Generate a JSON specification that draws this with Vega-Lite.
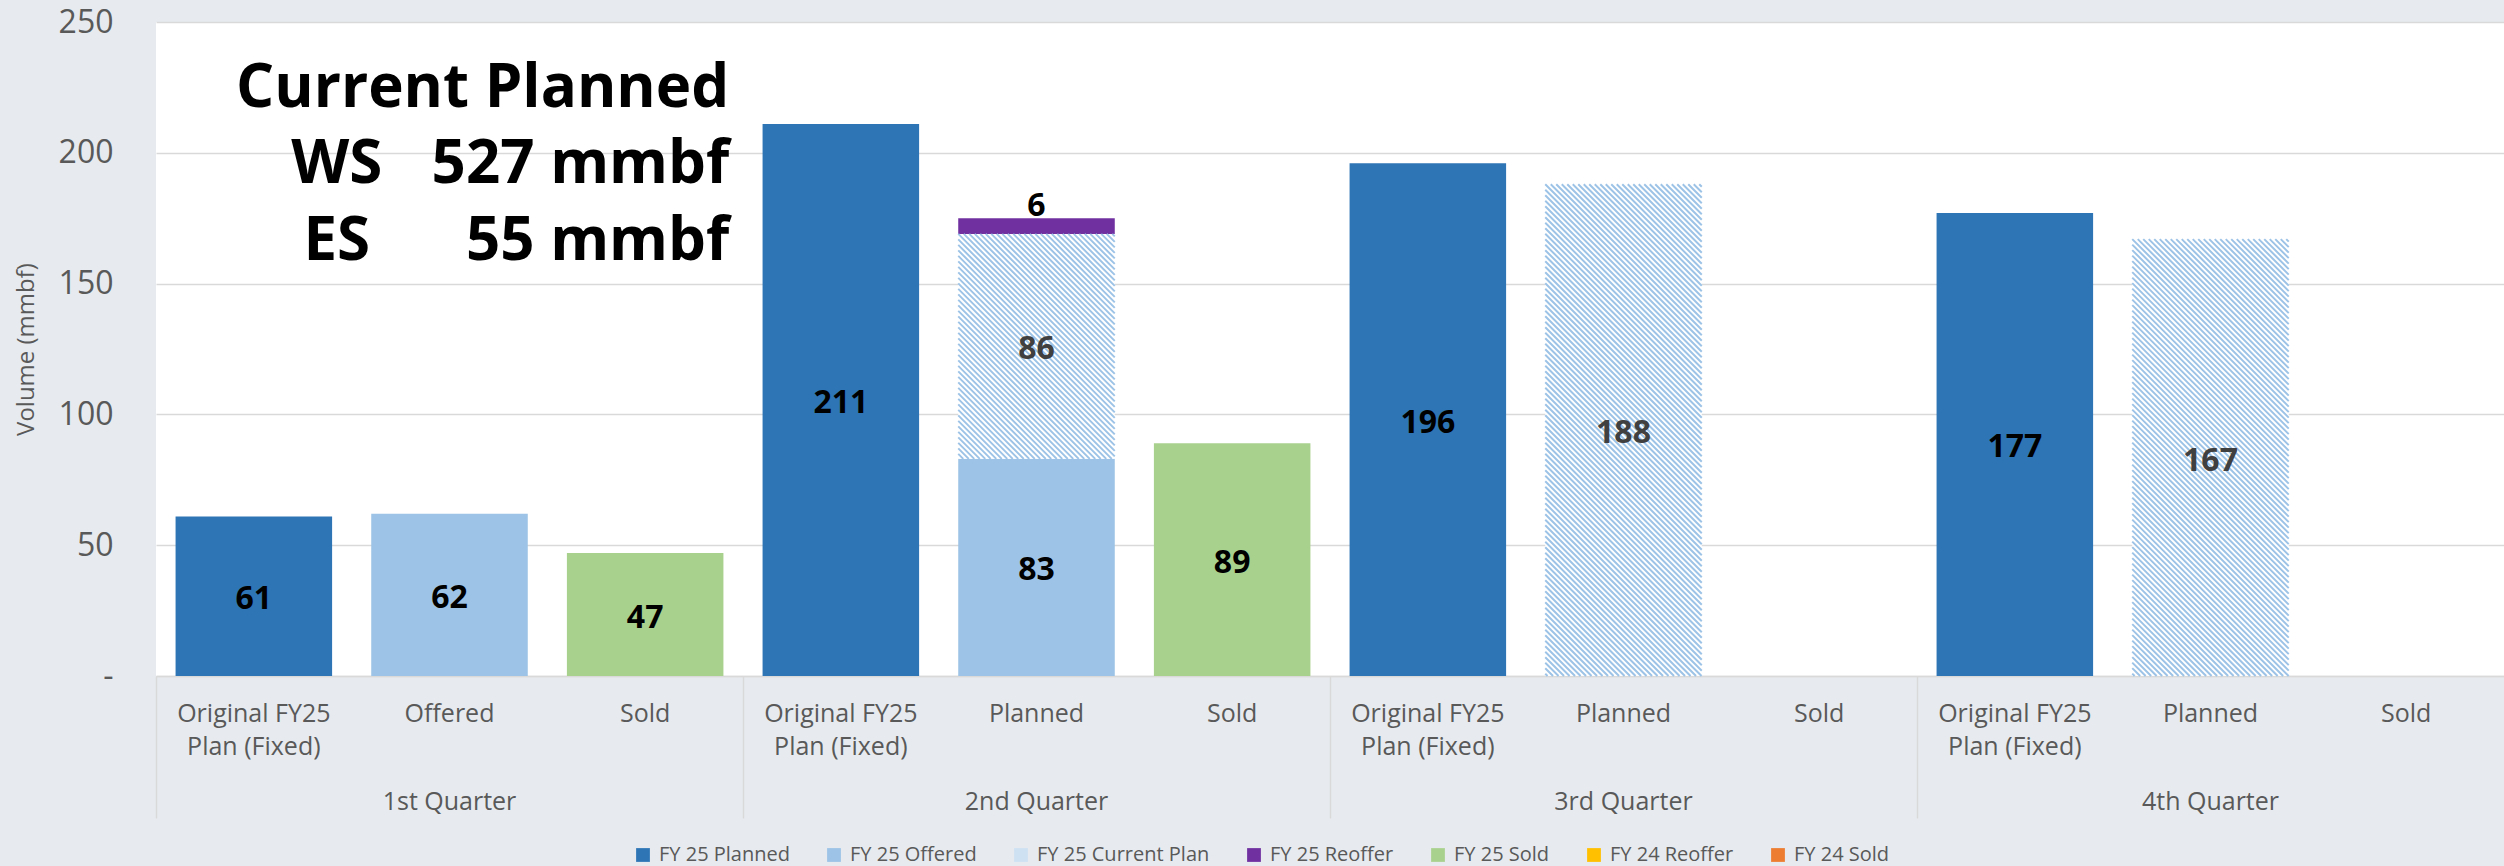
{
 "$schema": "https://vega.github.io/schema/vega-lite/v6.json",
 "width": 2348,
 "height": 654,
 "autosize": {"type": "none"},
 "padding": {"left": 156, "top": 22, "right": 0, "bottom": 190},
 "background": "#E7EBEF",
 "config": {"view": {"fill": "#FFFFFF", "stroke": null}, "font": "Open Sans"},
 "datasets": {
  "bars": [
   {"quarter":"1st Quarter","key":"1st Quarter|Original FY25 Plan (Fixed)","series":"FY 25 Planned","value":61,"order":1},
   {"quarter":"1st Quarter","key":"1st Quarter|Offered","series":"FY 25 Offered","value":62,"order":2},
   {"quarter":"1st Quarter","key":"1st Quarter|Sold","series":"FY 25 Sold","value":47,"order":5},
   {"quarter":"2nd Quarter","key":"2nd Quarter|Original FY25 Plan (Fixed)","series":"FY 25 Planned","value":211,"order":1},
   {"quarter":"2nd Quarter","key":"2nd Quarter|Planned","series":"FY 25 Offered","value":83,"order":2},
   {"quarter":"2nd Quarter","key":"2nd Quarter|Planned","series":"FY 25 Current Plan","value":86,"order":3},
   {"quarter":"2nd Quarter","key":"2nd Quarter|Planned","series":"FY 25 Reoffer","value":6,"order":4},
   {"quarter":"2nd Quarter","key":"2nd Quarter|Sold","series":"FY 25 Sold","value":89,"order":5},
   {"quarter":"3rd Quarter","key":"3rd Quarter|Original FY25 Plan (Fixed)","series":"FY 25 Planned","value":196,"order":1},
   {"quarter":"3rd Quarter","key":"3rd Quarter|Planned","series":"FY 25 Current Plan","value":188,"order":3},
   {"quarter":"4th Quarter","key":"4th Quarter|Original FY25 Plan (Fixed)","series":"FY 25 Planned","value":177,"order":1},
   {"quarter":"4th Quarter","key":"4th Quarter|Planned","series":"FY 25 Current Plan","value":167,"order":3}
  ],
  "notesRight": [
   {"note":"Current Planned\u00a0","key":"1st Quarter|Sold","y":217.5},
   {"note":"527 mmbf","key":"1st Quarter|Sold","y":188.5},
   {"note":"55 mmbf","key":"1st Quarter|Sold","y":159}
  ],
  "notesCenter": [
   {"note":"WS","key":"1st Quarter|Original FY25 Plan (Fixed)","y":188.5},
   {"note":"ES","key":"1st Quarter|Original FY25 Plan (Fixed)","y":159}
  ]
 },
 "layer": [
  {
   "data": {"name": "bars"},
   "transform": [
    {"stack": "value", "groupby": ["key"], "sort": [{"field": "order", "order": "ascending"}], "as": ["v0", "v1"]},
    {"calculate": "(datum.v0 + datum.v1) / 2", "as": "mid"}
   ],
   "encoding": {
    "x": {
     "field": "key", "type": "nominal", "title": null,
     "scale": {"type": "band", "domain": ["1st Quarter|Original FY25 Plan (Fixed)","1st Quarter|Offered","1st Quarter|Sold","2nd Quarter|Original FY25 Plan (Fixed)","2nd Quarter|Planned","2nd Quarter|Sold","3rd Quarter|Original FY25 Plan (Fixed)","3rd Quarter|Planned","3rd Quarter|Sold","4th Quarter|Original FY25 Plan (Fixed)","4th Quarter|Planned","4th Quarter|Sold"], "paddingInner": 0.2, "paddingOuter": 0.1},
     "axis": {"orient": "bottom", "labelExpr": "indexof(datum.value, 'Original') >= 0 ? ['Original FY25', 'Plan (Fixed)'] : split(datum.value, '|')[1]", "labelAngle": 0, "labelFontSize": 25, "labelColor": "#595959", "labelPadding": 25, "labelLineHeight": 33, "labelOverlap": false, "labelFlush": false, "labelLimit": 0, "ticks": false, "domain": true, "domainColor": "#D9D9D9", "domainWidth": 1.5, "grid": false}
    }
   },
   "layer": [
    {
     "mark": {"type": "bar"},
     "encoding": {
      "y": {"field": "v0", "type": "quantitative", "scale": {"domain": [0, 250], "nice": false}, "title": "Volume (mmbf)",
       "axis": {"values": [0, 50, 100, 150, 200, 250], "labelExpr": "datum.value == 0 ? '-\u00a0\u00a0' : datum.label", "labelFontSize": 32, "labelColor": "#595959", "labelPadding": 43, "ticks": false, "domain": false, "grid": true, "gridColor": "#D9D9D9", "gridWidth": 1.5, "titleFontSize": 24, "titleFontWeight": "normal", "titleColor": "#595959", "titlePadding": 20}},
      "y2": {"field": "v1"},
      "color": {
       "condition": {"test": "datum.series === 'FY 25 Current Plan'", "value": "#FFFFFF"},
       "field": "series", "type": "nominal",
       "scale": {"domain": ["FY 25 Planned","FY 25 Offered","FY 25 Current Plan","FY 25 Reoffer","FY 25 Sold","FY 24 Reoffer","FY 24 Sold"], "range": ["#2E75B6","#9DC3E6","#CEE1F2","#7030A0","#A9D18E","#FFC000","#ED7D31"]},
       "legend": {"orient": "none", "legendX": 477, "legendY": 823, "direction": "horizontal", "title": null, "labelFontSize": 20, "labelColor": "#595959", "labelLimit": 0, "symbolType": "square", "symbolSize": 190, "symbolStrokeWidth": 0, "labelOffset": 6, "columnPadding": 34}
      }
     }
    },
    {
     "transform": [{"filter": "datum.series === 'FY 25 Current Plan' && datum.quarter === '3rd Quarter'"}],
     "mark": {"type": "point", "size": 4, "filled": false, "color": "#9DC3E6", "stroke": "#9DC3E6", "strokeWidth": 2, "opacity": 1, "strokeCap": "butt",
      "shape": "M-72.75,0l151,151M-67.25,0l145.5,145.5M-61.75,0l140,140M-56.25,0l134.5,134.5M-50.75,0l129,129M-45.25,0l123.5,123.5M-39.75,0l118,118M-34.25,0l112.5,112.5M-28.75,0l107,107M-23.25,0l101.5,101.5M-17.75,0l96,96M-12.25,0l90.5,90.5M-6.75,0l85,85M-1.25,0l79.5,79.5M4.25,0l74,74M9.75,0l68.5,68.5M15.25,0l63,63M20.75,0l57.5,57.5M26.25,0l52,52M31.75,0l46.5,46.5M37.25,0l41,41M42.75,0l35.5,35.5M48.25,0l30,30M53.75,0l24.5,24.5M59.25,0l19,19M64.75,0l13.5,13.5M70.25,0l8,8M75.75,0l2.5,2.5M-78.25,0l156.5,156.5M-78.25,5.5l156.5,156.5M-78.25,11l156.5,156.5M-78.25,16.5l156.5,156.5M-78.25,22l156.5,156.5M-78.25,27.5l156.5,156.5M-78.25,33l156.5,156.5M-78.25,38.5l156.5,156.5M-78.25,44l156.5,156.5M-78.25,49.5l156.5,156.5M-78.25,55l156.5,156.5M-78.25,60.5l156.5,156.5M-78.25,66l156.5,156.5M-78.25,71.5l156.5,156.5M-78.25,77l156.5,156.5M-78.25,82.5l156.5,156.5M-78.25,88l156.5,156.5M-78.25,93.5l156.5,156.5M-78.25,99l156.5,156.5M-78.25,104.5l156.5,156.5M-78.25,110l156.5,156.5M-78.25,115.5l156.5,156.5M-78.25,121l156.5,156.5M-78.25,126.5l156.5,156.5M-78.25,132l156.5,156.5M-78.25,137.5l156.5,156.5M-78.25,143l156.5,156.5M-78.25,148.5l156.5,156.5M-78.25,154l156.5,156.5M-78.25,159.5l156.5,156.5M-78.25,165l156.5,156.5M-78.25,170.5l156.5,156.5M-78.25,176l156.5,156.5M-78.25,181.5l156.5,156.5M-78.25,187l156.5,156.5M-78.25,192.5l156.5,156.5M-78.25,198l156.5,156.5M-78.25,203.5l156.5,156.5M-78.25,209l156.5,156.5M-78.25,214.5l156.5,156.5M-78.25,220l156.5,156.5M-78.25,225.5l156.5,156.5M-78.25,231l156.5,156.5M-78.25,236.5l156.5,156.5M-78.25,242l156.5,156.5M-78.25,247.5l156.5,156.5M-78.25,253l156.5,156.5M-78.25,258.5l156.5,156.5M-78.25,264l156.5,156.5M-78.25,269.5l156.5,156.5M-78.25,275l156.5,156.5M-78.25,280.5l156.5,156.5M-78.25,286l156.5,156.5M-78.25,291.5l156.5,156.5M-78.25,297l156.5,156.5M-78.25,302.5l156.5,156.5M-78.25,308l156.5,156.5M-78.25,313.5l156.5,156.5M-78.25,319l156.5,156.5M-78.25,324.5l156.5,156.5M-78.25,330l156.5,156.5M-78.25,335.5l156.3,156.3M-78.25,341l150.8,150.8M-78.25,346.5l145.3,145.3M-78.25,352l139.8,139.8M-78.25,357.5l134.3,134.3M-78.25,363l128.8,128.8M-78.25,368.5l123.3,123.3M-78.25,374l117.8,117.8M-78.25,379.5l112.3,112.3M-78.25,385l106.8,106.8M-78.25,390.5l101.3,101.3M-78.25,396l95.8,95.8M-78.25,401.5l90.3,90.3M-78.25,407l84.8,84.8M-78.25,412.5l79.3,79.3M-78.25,418l73.8,73.8M-78.25,423.5l68.3,68.3M-78.25,429l62.8,62.8M-78.25,434.5l57.3,57.3M-78.25,440l51.8,51.8M-78.25,445.5l46.3,46.3M-78.25,451l40.8,40.8M-78.25,456.5l35.3,35.3M-78.25,462l29.8,29.8M-78.25,467.5l24.3,24.3M-78.25,473l18.8,18.8M-78.25,478.5l13.3,13.3M-78.25,484l7.8,7.8M-78.25,489.5l2.3,2.3"},
     "encoding": {"y": {"field": "v1", "type": "quantitative", "scale": {"domain": [0, 250], "nice": false}, "title": "Volume (mmbf)"}}
    },
    {
     "transform": [{"filter": "datum.series === 'FY 25 Current Plan' && datum.quarter === '4th Quarter'"}],
     "mark": {"type": "point", "size": 4, "filled": false, "color": "#9DC3E6", "stroke": "#9DC3E6", "strokeWidth": 2, "opacity": 1, "strokeCap": "butt",
      "shape": "M-72.75,0l151,151M-67.25,0l145.5,145.5M-61.75,0l140,140M-56.25,0l134.5,134.5M-50.75,0l129,129M-45.25,0l123.5,123.5M-39.75,0l118,118M-34.25,0l112.5,112.5M-28.75,0l107,107M-23.25,0l101.5,101.5M-17.75,0l96,96M-12.25,0l90.5,90.5M-6.75,0l85,85M-1.25,0l79.5,79.5M4.25,0l74,74M9.75,0l68.5,68.5M15.25,0l63,63M20.75,0l57.5,57.5M26.25,0l52,52M31.75,0l46.5,46.5M37.25,0l41,41M42.75,0l35.5,35.5M48.25,0l30,30M53.75,0l24.5,24.5M59.25,0l19,19M64.75,0l13.5,13.5M70.25,0l8,8M75.75,0l2.5,2.5M-78.25,0l156.5,156.5M-78.25,5.5l156.5,156.5M-78.25,11l156.5,156.5M-78.25,16.5l156.5,156.5M-78.25,22l156.5,156.5M-78.25,27.5l156.5,156.5M-78.25,33l156.5,156.5M-78.25,38.5l156.5,156.5M-78.25,44l156.5,156.5M-78.25,49.5l156.5,156.5M-78.25,55l156.5,156.5M-78.25,60.5l156.5,156.5M-78.25,66l156.5,156.5M-78.25,71.5l156.5,156.5M-78.25,77l156.5,156.5M-78.25,82.5l156.5,156.5M-78.25,88l156.5,156.5M-78.25,93.5l156.5,156.5M-78.25,99l156.5,156.5M-78.25,104.5l156.5,156.5M-78.25,110l156.5,156.5M-78.25,115.5l156.5,156.5M-78.25,121l156.5,156.5M-78.25,126.5l156.5,156.5M-78.25,132l156.5,156.5M-78.25,137.5l156.5,156.5M-78.25,143l156.5,156.5M-78.25,148.5l156.5,156.5M-78.25,154l156.5,156.5M-78.25,159.5l156.5,156.5M-78.25,165l156.5,156.5M-78.25,170.5l156.5,156.5M-78.25,176l156.5,156.5M-78.25,181.5l156.5,156.5M-78.25,187l156.5,156.5M-78.25,192.5l156.5,156.5M-78.25,198l156.5,156.5M-78.25,203.5l156.5,156.5M-78.25,209l156.5,156.5M-78.25,214.5l156.5,156.5M-78.25,220l156.5,156.5M-78.25,225.5l156.5,156.5M-78.25,231l156.5,156.5M-78.25,236.5l156.5,156.5M-78.25,242l156.5,156.5M-78.25,247.5l156.5,156.5M-78.25,253l156.5,156.5M-78.25,258.5l156.5,156.5M-78.25,264l156.5,156.5M-78.25,269.5l156.5,156.5M-78.25,275l156.5,156.5M-78.25,280.5l156.4,156.4M-78.25,286l150.9,150.9M-78.25,291.5l145.4,145.4M-78.25,297l139.9,139.9M-78.25,302.5l134.4,134.4M-78.25,308l128.9,128.9M-78.25,313.5l123.4,123.4M-78.25,319l117.9,117.9M-78.25,324.5l112.4,112.4M-78.25,330l106.9,106.9M-78.25,335.5l101.4,101.4M-78.25,341l95.9,95.9M-78.25,346.5l90.4,90.4M-78.25,352l84.9,84.9M-78.25,357.5l79.4,79.4M-78.25,363l73.9,73.9M-78.25,368.5l68.4,68.4M-78.25,374l62.9,62.9M-78.25,379.5l57.4,57.4M-78.25,385l51.9,51.9M-78.25,390.5l46.4,46.4M-78.25,396l40.9,40.9M-78.25,401.5l35.4,35.4M-78.25,407l29.9,29.9M-78.25,412.5l24.4,24.4M-78.25,418l18.9,18.9M-78.25,423.5l13.4,13.4M-78.25,429l7.9,7.9M-78.25,434.5l2.4,2.4"},
     "encoding": {"y": {"field": "v1", "type": "quantitative", "scale": {"domain": [0, 250], "nice": false}, "title": "Volume (mmbf)"}}
    },
    {
     "transform": [{"filter": "datum.series === 'FY 25 Current Plan' && datum.quarter === '2nd Quarter'"}],
     "mark": {"type": "point", "size": 4, "filled": false, "color": "#9DC3E6", "stroke": "#9DC3E6", "strokeWidth": 2, "opacity": 1, "strokeCap": "butt",
      "shape": "M-72.75,0l151,151M-67.25,0l145.5,145.5M-61.75,0l140,140M-56.25,0l134.5,134.5M-50.75,0l129,129M-45.25,0l123.5,123.5M-39.75,0l118,118M-34.25,0l112.5,112.5M-28.75,0l107,107M-23.25,0l101.5,101.5M-17.75,0l96,96M-12.25,0l90.5,90.5M-6.75,0l85,85M-1.25,0l79.5,79.5M4.25,0l74,74M9.75,0l68.5,68.5M15.25,0l63,63M20.75,0l57.5,57.5M26.25,0l52,52M31.75,0l46.5,46.5M37.25,0l41,41M42.75,0l35.5,35.5M48.25,0l30,30M53.75,0l24.5,24.5M59.25,0l19,19M64.75,0l13.5,13.5M70.25,0l8,8M75.75,0l2.5,2.5M-78.25,0l156.5,156.5M-78.25,5.5l156.5,156.5M-78.25,11l156.5,156.5M-78.25,16.5l156.5,156.5M-78.25,22l156.5,156.5M-78.25,27.5l156.5,156.5M-78.25,33l156.5,156.5M-78.25,38.5l156.5,156.5M-78.25,44l156.5,156.5M-78.25,49.5l156.5,156.5M-78.25,55l156.5,156.5M-78.25,60.5l156.5,156.5M-78.25,66l156.5,156.5M-78.25,71.5l153.5,153.5M-78.25,77l148,148M-78.25,82.5l142.5,142.5M-78.25,88l137,137M-78.25,93.5l131.5,131.5M-78.25,99l126,126M-78.25,104.5l120.5,120.5M-78.25,110l115,115M-78.25,115.5l109.5,109.5M-78.25,121l104,104M-78.25,126.5l98.5,98.5M-78.25,132l93,93M-78.25,137.5l87.5,87.5M-78.25,143l82,82M-78.25,148.5l76.5,76.5M-78.25,154l71,71M-78.25,159.5l65.5,65.5M-78.25,165l60,60M-78.25,170.5l54.5,54.5M-78.25,176l49,49M-78.25,181.5l43.5,43.5M-78.25,187l38,38M-78.25,192.5l32.5,32.5M-78.25,198l27,27M-78.25,203.5l21.5,21.5M-78.25,209l16,16M-78.25,214.5l10.5,10.5M-78.25,220l5,5"},
     "encoding": {"y": {"field": "v1", "type": "quantitative", "scale": {"domain": [0, 250], "nice": false}, "title": "Volume (mmbf)"}}
    },
    {
     "transform": [{"filter": "datum.series !== 'FY 25 Reoffer'"}],
     "mark": {"type": "text", "fontSize": 32, "fontWeight": "bold", "baseline": "middle", "dy": 3},
     "encoding": {
      "y": {"field": "mid", "type": "quantitative", "scale": {"domain": [0, 250], "nice": false}, "title": "Volume (mmbf)"},
      "text": {"field": "value", "type": "quantitative"},
      "color": {"condition": {"test": "datum.series === 'FY 25 Current Plan'", "value": "#404040"}, "value": "#000000"}
     }
    },
    {
     "transform": [{"filter": "datum.series === 'FY 25 Reoffer'"}],
     "mark": {"type": "text", "fontSize": 32, "fontWeight": "bold", "baseline": "alphabetic", "dy": -2, "color": "#000000"},
     "encoding": {
      "y": {"field": "v1", "type": "quantitative", "scale": {"domain": [0, 250], "nice": false}, "title": "Volume (mmbf)"},
      "text": {"field": "value", "type": "quantitative"}
     }
    },
    {
     "data": {"name": "notesRight"},
     "mark": {"type": "text", "fontSize": 60, "fontWeight": "bold", "align": "right", "baseline": "alphabetic", "dx": 84, "color": "#000000"},
     "encoding": {
      "y": {"field": "y", "type": "quantitative", "scale": {"domain": [0, 250], "nice": false}, "title": "Volume (mmbf)"},
      "text": {"field": "note", "type": "nominal"}
     }
    },
    {
     "data": {"name": "notesCenter"},
     "mark": {"type": "text", "fontSize": 60, "fontWeight": "bold", "align": "center", "baseline": "alphabetic", "dx": 83, "color": "#000000"},
     "encoding": {
      "y": {"field": "y", "type": "quantitative", "scale": {"domain": [0, 250], "nice": false}, "title": "Volume (mmbf)"},
      "text": {"field": "note", "type": "nominal"}
     }
    }
   ]
  },
  {
   "data": {"name": "bars"},
   "mark": {"type": "rule", "opacity": 0},
   "encoding": {
    "x": {"field": "quarter", "type": "nominal", "title": null,
     "scale": {"type": "band", "domain": ["1st Quarter","2nd Quarter","3rd Quarter","4th Quarter"], "paddingInner": 0, "paddingOuter": 0},
     "axis": {"orient": "bottom", "bandPosition": 0, "ticks": true, "tickSize": 142, "tickColor": "#D9D9D9", "tickWidth": 1.5, "domain": false, "grid": false, "labelPadding": -29, "labelFontSize": 25, "labelColor": "#595959", "labelAngle": 0, "labelOverlap": false, "labelFlush": false, "labelBaseline": "top"}}
   }
  }
 ],
 "resolve": {"scale": {"x": "independent"}, "axis": {"x": "independent"}}
}
